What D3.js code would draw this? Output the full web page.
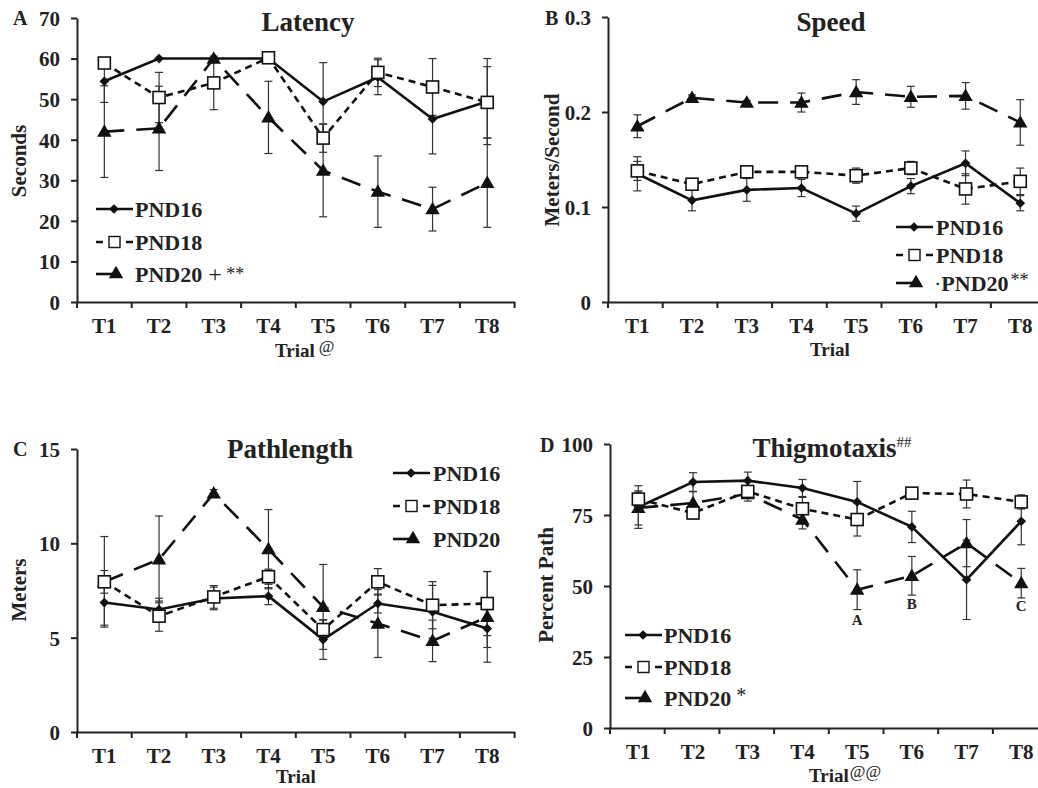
<!DOCTYPE html>
<html><head><meta charset="utf-8">
<script src="https://cdn.jsdelivr.net/npm/d3@7"></script>
<style>
html,body{margin:0;padding:0;background:#fff;}
svg text{font-family:"Liberation Serif","Times New Roman",serif;font-weight:bold;fill:#222;}
</style></head>
<body>
<svg id="chart" width="1038" height="788"></svg>
<script>
const trials = ["T1","T2","T3","T4","T5","T6","T7","T8"];
const seriesNames = ["PND16","PND18","PND20"];

const latency16 = [54.4, 60, 60, 60, 49.4, 55.4, 45.1, 49.4];
const latency18 = [58.9, 50.4, 54, 60.2, 40.4, 56.6, 53, 49.2];
const latency20 = [42, 42.8, 60, 45.5, 32.4, 27.2, 22.9, 29.4];
const latencyErr16 = [5.2, 0, 0, 0, 9.6, 4.3, 8.6, 10.6];
const latencyErr18 = [1, 6.2, 6.6, 0, 3.5, 3.5, 7, 8.8];
const latencyErr20 = [11.3, 10.4, 0, 8.9, 11.4, 8.8, 5.4, 11];
const latencyTicks = [0,10,20,30,40,50,60,70];

const speed16 = [0.135, 0.107, 0.118, 0.120, 0.093, 0.122, 0.146, 0.104];
const speed18 = [0.138, 0.124, 0.137, 0.137, 0.133, 0.141, 0.119, 0.127];
const speed20 = [0.185, 0.215, 0.210, 0.210, 0.221, 0.216, 0.217, 0.189];
const speedErr16 = [0.018, 0.011, 0.012, 0.009, 0.008, 0.008, 0.013, 0.008];
const speedErr18 = [0.010, 0.005, 0.004, 0.004, 0.008, 0.007, 0.016, 0.014];
const speedErr20 = [0.012, 0.003, 0.002, 0.010, 0.013, 0.011, 0.014, 0.024];
const speedTicks = [0, 0.1, 0.2, 0.3];

const path16 = [6.86, 6.49, 7.08, 7.2, 4.9, 6.81, 6.37, 5.48];
const path18 = [7.96, 6.14, 7.16, 8.23, 5.43, 7.96, 6.72, 6.81];
const path20 = [7.96, 9.15, 12.65, 9.69, 6.63, 5.75, 4.83, 6.1];
const pathErr16 = [1.2, 0.6, 0.6, 0.45, 1.05, 0.5, 1.4, 1.0];
const pathErr18 = [0.6, 0.8, 0.6, 0.4, 0.5, 0.7, 1.25, 1.7];
const pathErr20 = [2.4, 2.3, 0.2, 2.1, 2.25, 1.8, 1.1, 2.4];
const pathTicks = [0, 5, 10, 15];

const thig16 = [77.8, 86.6, 87.1, 84.5, 79.6, 70.8, 52.2, 72.8];
const thig18 = [80.6, 75.7, 83.3, 77.2, 73.4, 82.7, 82.4, 79.6];
const thig20 = [77.5, 79.2, 82.4, 73.4, 48.7, 53.6, 65.1, 51.0];
const thigErr16 = [7.5, 3.3, 3.0, 3.0, 7.2, 5.5, 14, 8.3];
const thigErr18 = [2.5, 2.0, 1.5, 4.0, 5.8, 1.0, 4.9, 2.5];
const thigErr20 = [6.0, 4.0, 2.5, 3.3, 7.0, 6.8, 8.3, 5.2];
const thigTicks = [0, 25, 50, 75, 100];
const thigLetters = [{trial:"T5", text:"A", v:38}, {trial:"T6", text:"B", v:43.5}, {trial:"T8", text:"C", v:43}];

const svg = d3.select("#chart");
const BAND = 54.7;
const styles = [
  {dash:null, marker:"diamond"},
  {dash:"7,5", marker:"square"},
  {dash:"20,12", marker:"triangle"}
];

function drawMarker(g, type, cx, cy){
  if(type==="diamond"){
    g.append("path").attr("d", d3.symbol(d3.symbolDiamond2, 60)())
      .attr("transform",`translate(${cx},${cy})`).attr("fill","#111");
  } else if(type==="square"){
    g.append("rect").attr("x",cx-6).attr("y",cy-6).attr("width",12).attr("height",12)
      .attr("fill","#fff").attr("stroke","#111").attr("stroke-width",1.6);
  } else {
    g.append("path").attr("d", d3.symbol(d3.symbolTriangle, 90)())
      .attr("transform",`translate(${cx},${cy+1})`).attr("fill","#111");
  }
}

function panel(cfg){
  const g = svg.append("g");
  const x = d3.scaleBand().domain(trials).range([cfg.x0, cfg.x0 + BAND*trials.length]);
  const y = d3.scaleLinear().domain([0, cfg.max]).range([cfg.yb, cfg.yt]);
  const cx = t => x(t) + x.bandwidth()/2 + (cfg.dx||0);

  // y axis
  const ya = g.append("g").attr("transform",`translate(${cfg.x0},0)`)
    .call(d3.axisLeft(y).tickValues(cfg.ticks).tickFormat(cfg.fmt).tickSize(6).tickSizeOuter(0).tickPadding(11));
  ya.select(".domain").attr("stroke","#222").attr("stroke-width",2);
  ya.selectAll(".tick line").attr("stroke","#222").attr("stroke-width",2);
  ya.selectAll(".tick text").attr("font-size",21).attr("fill","#222").attr("dy","0.35em");
  ya.attr("font-family",null).attr("font-size",null);

  // x axis
  const xa = g.append("g").attr("transform",`translate(0,${cfg.yb})`)
    .call(d3.axisBottom(x).tickSize(0).tickSizeOuter(0).tickPadding(16));
  xa.select(".domain").attr("stroke","#222").attr("stroke-width",2);
  xa.selectAll(".tick text").attr("font-size",21).attr("fill","#222").attr("dx", cfg.dx||0);
  xa.attr("font-family",null).attr("font-size",null);
  // band boundary ticks
  const bounds = trials.map(t => x(t)).concat([x(trials[trials.length-1]) + x.bandwidth()]);
  g.selectAll(".bt").data(bounds).enter().append("line")
    .attr("x1",d=>d).attr("x2",d=>d).attr("y1",cfg.yb).attr("y2",cfg.yb+6)
    .attr("stroke","#222").attr("stroke-width",2);

  // title
  const tt = g.append("text").attr("x",cfg.titleX).attr("y",cfg.titleY).attr("text-anchor","middle")
    .attr("font-size",27).text(cfg.title);
  if(cfg.titleSup) tt.append("tspan").attr("font-size",15).attr("dy",-10).attr("font-weight","normal").text(cfg.titleSup);

  // panel letter
  g.append("text").attr("x",cfg.letterX).attr("y",cfg.letterY).attr("font-size",20).text(cfg.letter);

  // y label
  g.append("text").attr("transform",`translate(${cfg.ylabX},${cfg.ylabY}) rotate(-90)`)
    .attr("text-anchor","middle").attr("dominant-baseline","central").attr("font-size",21).text(cfg.ylabel);

  // x label
  const xl = g.append("text").attr("x",cfg.xlabX).attr("y",cfg.yb+(cfg.xlabDy||54)).attr("text-anchor","start")
    .attr("font-size",19).text("Trial");
  if(cfg.xSup) xl.append("tspan").attr("font-size",cfg.xSupSize||16).attr("dx",cfg.xSupDx||3).attr("dy",-5).attr("font-weight","normal").text(cfg.xSup);

  const data = cfg.series;
  // error bars
  data.forEach(s => {
    s.vals.forEach((v,i) => {
      const e = s.err[i]; if(!e) return;
      const px = cx(trials[i]);
      const y1 = y(v+e), y2 = y(v-e);
      g.append("line").attr("x1",px).attr("x2",px).attr("y1",y1).attr("y2",y2).attr("stroke","#333").attr("stroke-width",1.2);
      [y1,y2].forEach(yy => g.append("line").attr("x1",px-4).attr("x2",px+4).attr("y1",yy).attr("y2",yy).attr("stroke","#333").attr("stroke-width",1.2));
    });
  });
  // lines
  const line = d3.line().x((d,i)=>cx(trials[i])).y(d=>y(d));
  data.forEach((s,k) => {
    g.append("path").datum(s.vals).attr("d",line).attr("fill","none").attr("stroke","#111")
      .attr("stroke-width",2.6).attr("stroke-dasharray",styles[k].dash);
  });
  // markers: 16, 20, 18
  [0,2,1].forEach(k => {
    data[k].vals.forEach((v,i) => drawMarker(g, styles[k].marker, cx(trials[i]), y(v)));
  });

  // legend
  cfg.legRows.forEach((ry,k) => {
    const lx = cfg.legX;
    if(k===0){
      g.append("line").attr("x1",lx).attr("x2",lx+37).attr("y1",ry).attr("y2",ry).attr("stroke","#111").attr("stroke-width",2.6);
      drawMarker(g,"diamond",lx+18,ry);
    } else if(k===1){
      g.append("line").attr("x1",lx).attr("x2",lx+37).attr("y1",ry).attr("y2",ry).attr("stroke","#111").attr("stroke-width",2.6).attr("stroke-dasharray","7,6.5,10,6.5,7");
      g.append("rect").attr("x",lx+13).attr("y",ry-5.5).attr("width",11).attr("height",11).attr("fill","#fff").attr("stroke","#111").attr("stroke-width",1.4);
    } else {
      g.append("line").attr("x1",lx).attr("x2",lx+24).attr("y1",ry).attr("y2",ry).attr("stroke","#111").attr("stroke-width",2.6);
      drawMarker(g,"triangle",lx+20,ry-1);
    }
    const t = g.append("text").attr("x",lx+cfg.legTextDx+(k===2?(cfg.leg3Dx||0):0)).attr("y",ry).attr("dominant-baseline","central")
      .attr("font-size",22);
    if(k===2 && cfg.leg3Pre) t.append("tspan").attr("font-weight","normal").text(cfg.leg3Pre);
    t.append("tspan").text(seriesNames[k]);
    if(k===2 && cfg.leg3Post) cfg.leg3Post.forEach(p => t.append("tspan").attr("font-weight",p.w||"bold").attr("font-size",p.fs).attr("dx",p.dx||0).attr("dy",p.dy||0).text(p.t));
  });

  if(cfg.letters){
    cfg.letters.forEach(a => g.append("text").attr("x",cx(a.trial)).attr("y",y(a.v)).attr("text-anchor","middle")
      .attr("dominant-baseline","central").attr("font-size",15).text(a.text));
  }
}

panel({x0:77, yt:18, yb:302, max:70, ticks:latencyTicks, fmt:d3.format("d"),
  title:"Latency", titleX:308, titleY:31, letter:"A", letterX:13, letterY:25,
  ylabel:"Seconds", ylabX:19, ylabY:161, xlabX:275, xlabDy:55, xSup:"@", xSupSize:17, xSupDx:4,
  legX:96, legRows:[209,242,274], legTextDx:39,
  leg3Post:[{t:" +", w:"normal", fs:24},{t:" **", w:"normal", fs:18, dy:0}],
  series:[{vals:latency16, err:latencyErr16},{vals:latency18, err:latencyErr18},{vals:latency20, err:latencyErr20}]});

panel({x0:608, yt:17, yb:302, max:0.3, ticks:speedTicks, fmt:d => d===0 ? "0" : d3.format(".1f")(d), dx:2,
  title:"Speed", titleX:831, titleY:31, letter:"B", letterX:545, letterY:25,
  ylabel:"Meters/Second", ylabX:552, ylabY:160, xlabX:810, xlabDy:54,
  legX:896, legRows:[227,255,283], legTextDx:40, leg3Pre:"·", leg3Dx:-2,
  leg3Post:[{t:"**", w:"normal", fs:18, dx:2, dy:-3}],
  series:[{vals:speed16, err:speedErr16},{vals:speed18, err:speedErr18},{vals:speed20, err:speedErr20}]});

panel({x0:77, yt:449, yb:732, max:15, ticks:pathTicks, fmt:d3.format("d"),
  title:"Pathlength", titleX:290, titleY:458, letter:"C", letterX:13, letterY:456,
  ylabel:"Meters", ylabX:19, ylabY:590, xlabX:276, xlabDy:51,
  legX:393, legRows:[473,506,539], legTextDx:40,
  series:[{vals:path16, err:pathErr16},{vals:path18, err:pathErr18},{vals:path20, err:pathErr20}]});

panel({x0:610, yt:444, yb:728, max:100, ticks:thigTicks, fmt:d3.format("d"), dx:1,
  title:"Thigmotaxis", titleSup:"##", titleX:832, titleY:457, letter:"D", letterX:540, letterY:452,
  ylabel:"Percent Path", ylabX:546, ylabY:585, xlabX:809, xlabDy:54, xSup:"@@", xSupSize:17, xSupDx:1,
  legX:625, legRows:[635,667,698], legTextDx:39,
  leg3Post:[{t:" *", w:"normal", fs:20, dy:-3}],
  letters:thigLetters,
  series:[{vals:thig16, err:thigErr16},{vals:thig18, err:thigErr18},{vals:thig20, err:thigErr20}]});
</script>
</body></html>
